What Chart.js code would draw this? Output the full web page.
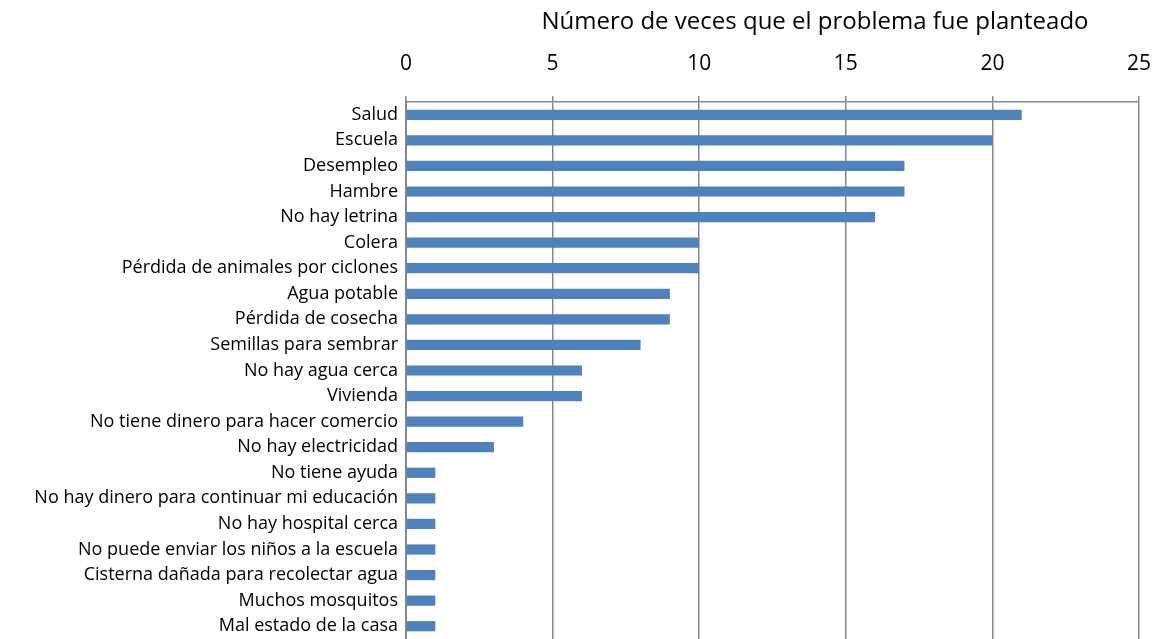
<!DOCTYPE html>
<html>
<head>
<meta charset="utf-8">
<script src="https://cdn.jsdelivr.net/npm/chart.js@4"></script>
<style>
  html, body { margin: 0; padding: 0; background: #fff; }
  #wrap { width: 1156px; height: 639px; }
</style>
</head>
<body>
<div id="wrap"><canvas id="problems-chart"></canvas></div>
<script>
// Problems raised, most frequent first
const problems = [
  'Salud', 'Escuela', 'Desempleo', 'Hambre', 'No hay letrina', 'Colera',
  'Pérdida de animales por ciclones', 'Agua potable', 'Pérdida de cosecha',
  'Semillas para sembrar', 'No hay agua cerca', 'Vivienda',
  'No tiene dinero para hacer comercio', 'No hay electricidad', 'No tiene ayuda',
  'No hay dinero para continuar mi educación', 'No hay hospital cerca',
  'No puede enviar los niños a la escuela', 'Cisterna dañada para recolectar agua',
  'Muchos mosquitos', 'Mal estado de la casa'
];
const timesRaised = [21, 20, 17, 17, 16, 10, 10, 9, 9, 8, 6, 6, 4, 3, 1, 1, 1, 1, 1, 1, 1];
const axisTitle = 'Número de veces que el problema fue planteado';

const fontFamily = "'Open Sans', 'Liberation Sans', sans-serif";

// Excel puts the axis title a bit right of the plot centre
const axisTitlePlugin = {
  id: 'axisTitle',
  afterDraw(chart) {
    const { ctx, chartArea } = chart;
    const x = chartArea.left + (chartArea.right - chartArea.left) * 0.558;
    ctx.save();
    ctx.font = `24px ${fontFamily}`;
    ctx.fillStyle = '#000';
    ctx.textAlign = 'center';
    ctx.textBaseline = 'middle';
    ctx.fillText(axisTitle, x, 22);
    ctx.restore();
  }
};

new Chart(document.getElementById('problems-chart'), {
  type: 'bar',
  data: {
    labels: problems,
    datasets: [{
      data: timesRaised,
      backgroundColor: '#4F81BD',
      borderWidth: 0,
      barPercentage: 0.4,
      categoryPercentage: 1.0
    }]
  },
  options: {
    indexAxis: 'y',
    responsive: true,
    maintainAspectRatio: false,
    animation: false,
    layout: { padding: { left: 0, right: 17, top: 0, bottom: -2 } },
    plugins: {
      legend: { display: false },
      tooltip: { enabled: false }
    },
    scales: {
      x: {
        position: 'top',
        min: 0,
        max: 25,
        ticks: {
          stepSize: 5,
          color: '#000',
          padding: 19,
          font: { family: fontFamily, size: 21 }
        },
        grid: {
          color: '#878787',
          lineWidth: 1.5,
          tickLength: 6,
          drawTicks: true
        },
        border: { display: true, color: '#878787', width: 1.5 },
        afterFit: (scale) => {
          scale.height = 102;
          scale.paddingLeft = 0;
          scale.paddingRight = 0;
        }
      },
      y: {
        ticks: {
          color: '#000',
          padding: 8,
          autoSkip: false,
          font: { family: fontFamily, size: 18 }
        },
        grid: { display: false, drawTicks: false },
        border: { display: true, color: '#878787', width: 2 },
        afterFit: (scale) => {
          scale.width = 406;
          scale.paddingTop = 0;
          scale.paddingBottom = 0;
        }
      }
    }
  },
  plugins: [axisTitlePlugin]
});
</script>
</body>
</html>
